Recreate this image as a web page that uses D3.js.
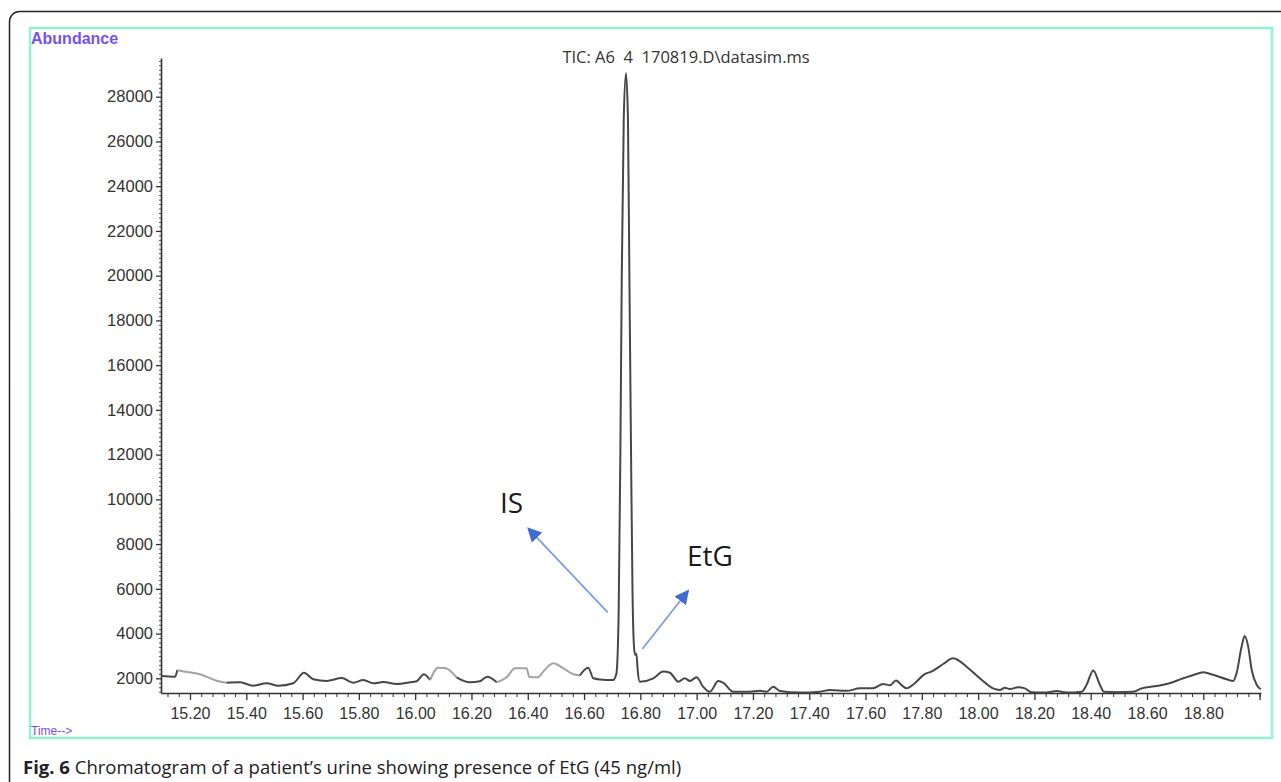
<!DOCTYPE html>
<html lang="en">
<head>
  <meta charset="UTF-8">
  <script src="https://d3js.org/d3.v7.min.js"></script>
  <title>Chromatogram</title>
  <style>
  body {
      margin: 0;
      background: #fff;
  }
  .tick text {
      font-family: "Liberation Sans", Arial, sans-serif;
      fill: #333;
  }
  .title, .caption, .peak {
      font-family: "Open Sans", Calibri, sans-serif;
  }
  </style>
</head>
<body>
<svg id="chart" width="1281" height="782"></svg>

<script>
  // retention time (min) and abundance
  const times = [15.097, 15.147, 15.155, 15.164, 15.236, 15.295, 15.330, 15.378, 15.424, 15.472,
    15.514, 15.567, 15.605, 15.638, 15.686, 15.739, 15.780, 15.816, 15.851, 15.887,
    15.934, 15.982, 16.005, 16.031, 16.053, 16.082, 16.106, 16.147, 16.195, 16.230,
    16.256, 16.290, 16.325, 16.355, 16.396, 16.405, 16.437, 16.455, 16.491, 16.526,
    16.562, 16.585, 16.615, 16.633, 16.656, 16.703, 16.715, 16.723, 16.729, 16.734,
    16.741, 16.749, 16.756, 16.761, 16.767, 16.772, 16.777, 16.781, 16.786, 16.791,
    16.798, 16.846, 16.881, 16.905, 16.935, 16.958, 16.976, 17.000, 17.023, 17.047,
    17.077, 17.095, 17.130, 17.189, 17.225, 17.249, 17.272, 17.296, 17.367, 17.438,
    17.473, 17.533, 17.580, 17.626, 17.663, 17.687, 17.708, 17.732, 17.746, 17.775,
    17.810, 17.834, 17.876, 17.911, 17.923, 17.959, 18.006, 18.053, 18.077, 18.095,
    18.113, 18.142, 18.166, 18.190, 18.243, 18.279, 18.314, 18.368, 18.385, 18.409,
    18.433, 18.447, 18.492, 18.551, 18.581, 18.634, 18.670, 18.729, 18.765, 18.800,
    18.836, 18.883, 18.906, 18.918, 18.936, 18.947, 18.959, 18.972, 18.990, 19.004];
  const abundance = [2100, 2070, 2370, 2340, 2180, 1890, 1800, 1820, 1670, 1780,
    1670, 1780, 2250, 1955, 1880, 2010, 1800, 1925, 1775, 1835,
    1745, 1820, 1870, 2180, 1925, 2475, 2460, 2045, 1820, 1870,
    2070, 1820, 2045, 2450, 2450, 2070, 2045, 2300, 2670, 2450,
    2180, 2130, 2475, 2000, 1950, 1925, 2220, 5000, 12000, 20000,
    27000, 29050, 27000, 20000, 12000, 6000, 3500, 3050, 3100, 2300,
    1850, 2000, 2300, 2250, 1850, 2000, 1880, 2045, 1625, 1400,
    1880, 1800, 1400, 1400, 1440, 1400, 1625, 1430, 1360, 1400,
    1480, 1440, 1550, 1550, 1745, 1690, 1900, 1650, 1550, 1780,
    2190, 2300, 2640, 2895, 2850, 2520, 2000, 1550, 1480, 1580,
    1520, 1600, 1550, 1375, 1360, 1430, 1360, 1400, 1700, 2350,
    1700, 1400, 1380, 1400, 1550, 1655, 1745, 2000, 2150, 2270,
    2150, 1955, 1880, 2220, 3410, 3890, 3450, 2370, 1700, 1510];

  // parts of the trace that print lighter in the original
  const fadedSpans = [[15.160, 15.33], [16.07, 16.15], [16.32, 16.60]];

  const xTicks = [15.2, 15.4, 15.6, 15.8, 16.0, 16.2, 16.4, 16.6, 16.8, 17.0, 17.2, 17.4, 17.6, 17.8, 18.0, 18.2, 18.4, 18.6, 18.8];
  const yTicks = [2000, 4000, 6000, 8000, 10000, 12000, 14000, 16000, 18000, 20000, 22000, 24000, 26000, 28000];

  // annotations: label, label position, arrow tail, arrow head (time, abundance)
  const notes = [
    {label: "IS",  at: [16.301, 9390], from: [16.684, 4950], to: [16.405, 8661]},
    {label: "EtG", at: [16.966, 7020], from: [16.807, 3310], to: [16.967, 5870]}
  ];

  const svg = d3.select("svg#chart");
  const plot = {left: 161, right: 1261, top: 58, bottom: 693};

  const data = times.map((t, i) => ({t: t, v: abundance[i]}));

  const xScale = d3.scaleLinear().domain([15.097, 19.005]).range([plot.left, plot.right]);
  const yScale = d3.scaleLinear().domain([1343, 29730]).range([plot.bottom, plot.top]);

  // outer frame of the figure and the green instrument frame
  svg.append("rect")
      .attr("x", 9.5).attr("y", 11.5)
      .attr("width", 1300).attr("height", 800)
      .attr("rx", 10)
      .attr("fill", "none")
      .attr("stroke", "#222")
      .attr("stroke-width", 1.5);

  svg.append("rect")
      .attr("x", 30).attr("y", 28)
      .attr("width", 1242).attr("height", 710)
      .attr("fill", "none")
      .attr("stroke", "#93f3cc")
      .attr("stroke-width", 2.5);

  svg.append("text")
      .attr("x", 31).attr("y", 44)
      .attr("fill", "#7452f2")
      .style("font", "bold 16px 'Liberation Sans', Arial, sans-serif")
      .text("Abundance");

  svg.append("text")
      .attr("x", 31).attr("y", 735)
      .attr("fill", "#7452f2")
      .style("font", "12px 'Liberation Sans', Arial, sans-serif")
      .text("Time-->");

  svg.append("text")
      .attr("class", "title")
      .attr("x", 686).attr("y", 63)
      .attr("text-anchor", "middle")
      .attr("fill", "#333")
      .style("font-size", "16.5px")
      .style("white-space", "pre")
      .text("TIC: A6  4  170819.D\\datasim.ms");

  // minor ticks first so the labelled axes sit on top
  const minorX = d3.range(15.12, 19.0001, 0.04).filter(t => xTicks.every(m => Math.abs(m - t) > 0.001));
  svg.append("g")
      .attr("transform", `translate(0,${plot.bottom})`)
      .call(d3.axisBottom(xScale).tickValues(minorX).tickSize(4).tickFormat(""))
      .call(g => g.select(".domain").remove())
      .selectAll("line").attr("stroke", "#333");

  const minorY = d3.range(1400, 29700, 200).filter(v => v % 2000 !== 0);
  svg.append("g")
      .attr("transform", `translate(${plot.left},0)`)
      .call(d3.axisLeft(yScale).tickValues(minorY).tickSize(2).tickFormat(""))
      .call(g => g.select(".domain").remove())
      .selectAll("line").attr("stroke", "#555");

  const xAxisG = svg.append("g")
      .attr("class", "xAxis")
      .attr("transform", `translate(0,${plot.bottom})`)
      .call(d3.axisBottom(xScale).tickValues(xTicks.concat([19.0])).tickSize(7).tickSizeOuter(0).tickPadding(8)
          .tickFormat(d => d > 18.9 ? "" : d3.format(".2f")(d)));
  xAxisG.selectAll("text").style("font-size", "16px");

  const yAxisG = svg.append("g")
      .attr("class", "yAxis")
      .attr("transform", `translate(${plot.left},0)`)
      .call(d3.axisLeft(yScale).tickValues(yTicks).tickSize(5).tickSizeOuter(0).tickPadding(3)
          .tickFormat(d3.format("d")));
  yAxisG.selectAll("text").style("font-size", "16.5px");

  [xAxisG, yAxisG].forEach(g => {
    g.select(".domain").attr("stroke", "#333").attr("stroke-width", 1.6);
    g.selectAll(".tick line").attr("stroke", "#333").attr("stroke-width", 1.3);
  });

  // the trace, cut into dark and faded runs that share their end points
  const isFaded = t => fadedSpans.some(s => t >= s[0] && t <= s[1]);
  const runs = [];
  data.forEach((d, i) => {
    const f = isFaded(d.t);
    const last = runs[runs.length - 1];
    if (!last || last.faded !== f) {
      const run = {faded: f, pts: i > 0 ? [data[i - 1], d] : [d]};
      runs.push(run);
    } else {
      last.pts.push(d);
    }
  });

  const line = d3.line()
      .x(d => xScale(d.t))
      .y(d => yScale(d.v))
      .curve(d3.curveMonotoneX);

  svg.selectAll("path.trace")
      .data(runs)
      .join("path")
      .attr("class", "trace")
      .attr("fill", "none")
      .attr("stroke", r => r.faded ? "#a3a3a3" : "#474747")
      .attr("stroke-width", 2)
      .attr("stroke-linejoin", "round")
      .attr("d", r => line(r.pts));

  // arrows and peak labels
  const defs = svg.append("defs");
  defs.append("marker")
      .attr("id", "head")
      .attr("viewBox", "0 0 10 10")
      .attr("refX", 8).attr("refY", 5)
      .attr("markerWidth", 8).attr("markerHeight", 8)
      .attr("markerUnits", "strokeWidth")
      .attr("orient", "auto")
      .append("path")
      .attr("d", "M0,0 L10,5 L0,10 Z")
      .attr("fill", "#3f6bd3");

  svg.selectAll("line.arrow")
      .data(notes)
      .join("line")
      .attr("class", "arrow")
      .attr("x1", d => xScale(d.from[0])).attr("y1", d => yScale(d.from[1]))
      .attr("x2", d => xScale(d.to[0])).attr("y2", d => yScale(d.to[1]))
      .attr("stroke", "#7e9de6")
      .attr("stroke-width", 1.8)
      .attr("marker-end", "url(#head)");

  svg.selectAll("text.peak")
      .data(notes)
      .join("text")
      .attr("class", "peak")
      .attr("x", d => xScale(d.at[0])).attr("y", d => yScale(d.at[1]))
      .attr("fill", "#1a1a1a")
      .style("font-size", "28px")
      .text(d => d.label);

  // figure caption
  const cap = svg.append("text")
      .attr("class", "caption")
      .attr("x", 23).attr("y", 774)
      .attr("fill", "#222")
      .style("font-size", "18.5px");
  cap.append("tspan").attr("font-weight", "bold").text("Fig. 6");
  cap.append("tspan").text(" Chromatogram of a patient\u2019s urine showing presence of EtG (45 ng/ml)");
</script>
</body>
</html>
